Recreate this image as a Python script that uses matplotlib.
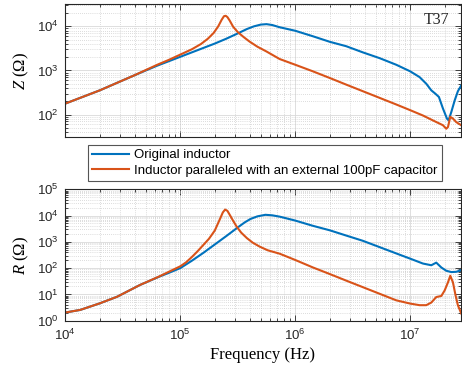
import numpy as np
import matplotlib
matplotlib.use('Agg')
import matplotlib.pyplot as plt
from matplotlib.ticker import LogLocator, NullFormatter

plt.rcParams['font.family'] = 'Liberation Sans'
plt.rcParams['mathtext.fontset'] = 'custom'
plt.rcParams['mathtext.rm'] = 'Liberation Serif'
plt.rcParams['mathtext.it'] = 'Liberation Serif:italic'

# impedance magnitude |Z| (log10 f in Hz, log10 Ohm)
z_orig_logf = [4.00, 4.30, 4.60, 4.80, 5.00, 5.10, 5.20, 5.30, 5.40, 5.50, 5.58, 5.64,
               5.70, 5.75, 5.80, 5.864, 6.00, 6.154, 6.30, 6.443, 6.588, 6.733, 6.878,
               7.00, 7.081, 7.139, 7.183, 7.22, 7.249, 7.284, 7.319, 7.333, 7.357,
               7.386, 7.414, 7.443]
z_orig_log = [2.25, 2.55, 2.89, 3.11, 3.31, 3.41, 3.51, 3.61, 3.72, 3.84, 3.94, 4.00,
              4.04, 4.05, 4.03, 3.98, 3.90, 3.775, 3.65, 3.55, 3.41, 3.28, 3.13,
              2.98, 2.85, 2.70, 2.55, 2.47, 2.40, 2.14, 1.91, 1.87, 2.06,
              2.32, 2.53, 2.66]

z_cap_logf = [4.00, 4.30, 4.60, 4.80, 4.90, 5.00, 5.10, 5.18, 5.24, 5.29, 5.33, 5.36,
              5.38, 5.395, 5.41, 5.43, 5.46, 5.50, 5.55, 5.60, 5.67, 5.75, 5.864, 6.00,
              6.154, 6.30, 6.443, 6.588, 6.733, 6.878, 7.00, 7.11, 7.212, 7.284, 7.313,
              7.328, 7.348, 7.371, 7.40, 7.443]
z_cap_log = [2.25, 2.55, 2.89, 3.13, 3.24, 3.36, 3.48, 3.60, 3.72, 3.85, 4.00, 4.15,
             4.23, 4.24, 4.21, 4.13, 3.99, 3.87, 3.76, 3.66, 3.54, 3.43, 3.26, 3.13,
             2.98, 2.83, 2.68, 2.53, 2.38, 2.23, 2.10, 1.98, 1.85, 1.76, 1.68,
             1.72, 1.95, 1.91, 1.83, 1.76]

# resistance R
r_orig_logf = [4.00, 4.13, 4.30, 4.45, 4.65, 4.82, 4.90, 5.00, 5.10, 5.20, 5.30, 5.40,
               5.50, 5.56, 5.61, 5.67, 5.74, 5.80, 5.864, 6.00, 6.154, 6.30, 6.443,
               6.588, 6.733, 6.878, 7.00, 7.11, 7.183, 7.226, 7.27, 7.313, 7.357,
               7.40, 7.443]
r_orig_log = [0.31, 0.41, 0.66, 0.91, 1.36, 1.68, 1.82, 2.00, 2.28, 2.58, 2.90, 3.22,
              3.55, 3.74, 3.87, 3.97, 4.03, 4.01, 3.96, 3.81, 3.61, 3.44, 3.24,
              3.04, 2.80, 2.56, 2.36, 2.175, 2.11, 2.21, 2.025, 1.90, 1.85,
              1.86, 1.925]

r_cap_logf = [4.00, 4.13, 4.30, 4.45, 4.65, 4.82, 4.90, 5.00, 5.05, 5.10, 5.15, 5.20,
              5.25, 5.30, 5.34, 5.37, 5.39, 5.41, 5.43, 5.46, 5.49, 5.53, 5.58, 5.63,
              5.69, 5.76, 5.864, 6.00, 6.154, 6.30, 6.443, 6.588, 6.733, 6.878, 7.00,
              7.081, 7.139, 7.183, 7.226, 7.27, 7.299, 7.328, 7.348, 7.371, 7.394,
              7.414, 7.443]
r_cap_log = [0.31, 0.41, 0.66, 0.91, 1.36, 1.69, 1.86, 2.07, 2.22, 2.42, 2.64, 2.88,
             3.12, 3.43, 3.82, 4.12, 4.23, 4.18, 4.03, 3.80, 3.58, 3.35, 3.14, 2.97,
             2.82, 2.68, 2.55, 2.31, 2.025, 1.775, 1.525, 1.275, 1.025, 0.775, 0.65,
             0.59, 0.59, 0.69, 0.90, 0.94, 1.15, 1.46, 1.71, 1.46, 0.96,
             0.59, 0.275]

labels = ['Original inductor', 'Inductor paralleled with an external 100pF capacitor']
blue = '#0072BD'
orange = '#D95319'
dark = '#262626'

fig = plt.figure(figsize=(4.62, 3.80), dpi=100)
ax1 = fig.add_axes([0.1413, 0.6403, 0.8555, 0.3484])
ax2 = fig.add_axes([0.1413, 0.1561, 0.8555, 0.3457])

def style(ax):
    ax.set_xscale('log')
    ax.set_yscale('log')
    ax.set_xlim(1e4, 10 ** 7.437)
    for s in ax.spines.values():
        s.set_color(dark)
        s.set_linewidth(0.8)
    ax.xaxis.set_major_locator(LogLocator(base=10, numticks=10))
    ax.xaxis.set_minor_locator(LogLocator(base=10, subs=np.arange(2, 10), numticks=20))
    ax.yaxis.set_minor_locator(LogLocator(base=10, subs=np.arange(2, 10), numticks=20))
    ax.xaxis.set_minor_formatter(NullFormatter())
    ax.yaxis.set_minor_formatter(NullFormatter())
    ax.tick_params(which='both', direction='in', top=True, right=True, colors=dark,
                   labelsize=9.5, width=0.6)
    ax.tick_params(which='major', length=4, pad=5)
    ax.tick_params(which='minor', length=2)
    ax.grid(True, which='major', color='#d9d9d9', linewidth=0.6)
    ax.grid(True, which='minor', color='#bcbcbc', linewidth=0.5, linestyle=(0, (1, 2)))
    ax.set_axisbelow(True)

l1, = ax1.plot(10 ** np.array(z_orig_logf), 10 ** np.array(z_orig_log), color=blue, lw=1.5)
l2, = ax1.plot(10 ** np.array(z_cap_logf), 10 ** np.array(z_cap_log), color=orange, lw=1.5)
style(ax1)
ax1.set_ylim(10 ** 1.5, 10 ** 4.5)
ax1.tick_params(labelbottom=False)
ax1.set_ylabel(r'$Z$ (Ω)', fontfamily='Liberation Serif', fontsize=12, labelpad=4)
ax1.text(0.94, 0.88, 'T37', transform=ax1.transAxes, ha='center', va='center',
         fontfamily='Liberation Serif', fontsize=11.5, color=dark)

ax2.plot(10 ** np.array(r_orig_logf), 10 ** np.array(r_orig_log), color=blue, lw=1.5)
ax2.plot(10 ** np.array(r_cap_logf), 10 ** np.array(r_cap_log), color=orange, lw=1.5)
style(ax2)
ax2.set_ylim(1, 1e5)
ax2.yaxis.set_major_locator(LogLocator(base=10, numticks=10))
ax2.set_ylabel(r'$R$ (Ω)', fontfamily='Liberation Serif', fontsize=12, labelpad=4)
ax2.set_xlabel('Frequency (Hz)', fontfamily='Liberation Serif', fontsize=12, labelpad=3)

leg = fig.legend([l1, l2], labels, loc='center',
                 bbox_to_anchor=(0.1905, 0.5184, 0.7662, 0.1053), mode='expand',
                 borderaxespad=0, fontsize=9.5, frameon=True, fancybox=False,
                 framealpha=1, edgecolor='#555555', handlelength=2.8,
                 handletextpad=0.4, borderpad=0.3, labelspacing=0.25)
leg.get_frame().set_linewidth(0.8)

fig.savefig('out.png', dpi=100)
